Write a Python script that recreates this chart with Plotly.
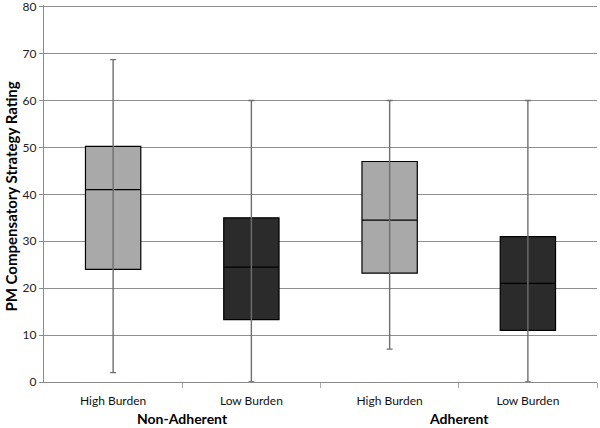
import plotly.graph_objects as go

categories = ["High Burden", "Low Burden", "High Burden", "Low Burden"]
groups = ["Non-Adherent", "Non-Adherent", "Adherent", "Adherent"]
lower = [2, 0, 7, 0]
q1 = [24, 13.3, 23.2, 11]
median = [41, 24.5, 34.5, 21]
q3 = [50.2, 35, 47, 31]
upper = [68.7, 60, 60, 60]
y_ticks = [0, 10, 20, 30, 40, 50, 60, 70, 80]

idx = list(range(len(categories)))
light = [i for i in idx if categories[i] == "High Burden"]
dark = [i for i in idx if categories[i] == "Low Burden"]

fig = go.Figure()

# whiskers (drawn first so boxes sit on top)
fig.add_trace(go.Scatter(
    x=idx, y=q3, mode="markers",
    marker=dict(size=1, color="rgba(0,0,0,0)"),
    error_y=dict(type="data", symmetric=False,
                 array=[u - h for u, h in zip(upper, q3)],
                 arrayminus=[h - l for h, l in zip(q3, lower)],
                 color="#6f6f6f", thickness=1.4, width=3),
    hoverinfo="skip", showlegend=False, cliponaxis=False,
))

for sel, fill in [(light, "#a9a9a9"), (dark, "#2b2b2b")]:
    fig.add_trace(go.Box(
        x=[idx[i] for i in sel],
        q1=[q1[i] for i in sel],
        median=[median[i] for i in sel],
        q3=[q3[i] for i in sel],
        lowerfence=[q1[i] for i in sel],
        upperfence=[q3[i] for i in sel],
        fillcolor=fill,
        line=dict(color="#000000", width=1.2),
        width=0.4, whiskerwidth=0,
        boxpoints=False, showlegend=False,
    ))

group_names = []
for g in groups:
    if g not in group_names:
        group_names.append(g)
for g in group_names:
    members = [i for i in idx if groups[i] == g]
    fig.add_annotation(
        x=sum(members) / len(members), y=0, xref="x", yref="paper",
        text="<b>" + g + "</b>", showarrow=False,
        yanchor="middle", yshift=-36,
        font=dict(family="Lato", size=14, color="#000000"),
    )

fig.add_annotation(
    x=0, y=0.5, xref="paper", yref="paper",
    text="<b>PM Compensatory Strategy Rating</b>", textangle=-90,
    showarrow=False, xanchor="center", yanchor="middle", xshift=-34, yshift=-3,
    font=dict(family="Lato", size=15, color="#000000"),
)

fig.update_layout(
    width=600, height=428,
    margin=dict(l=44, r=3, t=5, b=46, autoexpand=False),
    paper_bgcolor="white", plot_bgcolor="white",
    boxmode="overlay",
    font=dict(family="Lato", size=12, color="#222222"),
    xaxis=dict(
        range=[-0.5, len(categories) - 0.5], automargin=False,
        tickmode="array", tickvals=idx, ticktext=categories,
        ticks="", showgrid=False, zeroline=False, ticklabelstandoff=7,
        showline=True, linecolor="#8a8a8a", linewidth=1.2,
        tickfont=dict(family="Lato", size=12, color="#111111"),
        minor=dict(ticks="outside", tickmode="array",
                   tickvals=[i + 0.5 for i in idx],
                   ticklen=5, tickcolor="#aaaaaa", showgrid=False),
    ),
    yaxis=dict(
        range=[0, 80.35], automargin=False, ticklabeloverflow="allow",
        tickmode="array", tickvals=y_ticks,
        showgrid=True, gridcolor="#8f8f8f", gridwidth=1,
        zeroline=False, showline=True, linecolor="#8a8a8a", linewidth=1.2,
        ticks="outside", ticklen=4, tickcolor="#8a8a8a",
        tickfont=dict(family="Lato", size=12, color="#222222"),
    ),
)

fig.write_html("out.html", config={"displayModeBar": False},
               post_script="document.body.style.margin='0';document.body.style.padding='0';")
